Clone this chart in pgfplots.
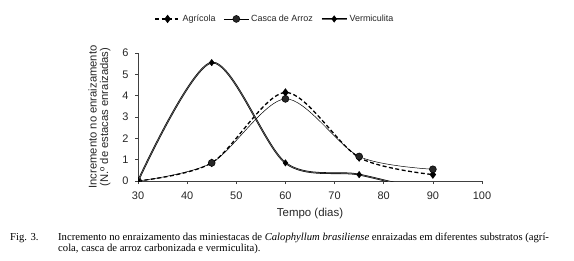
\documentclass[border=0pt]{standalone}
\usepackage{pgfplots}
\pgfplotsset{compat=1.18}
\usepackage{fontspec}
\setmainfont{Liberation Sans}
\newfontfamily\timesfont{Liberation Serif}
\begin{document}
\begin{tikzpicture}[x=1bp,y=1bp]
\useasboundingbox (0,0) rectangle (574,260);
\begin{axis}[
  at={(138bp,79bp)}, anchor=south west,
  scale only axis, width=344bp, height=128bp,
  xmin=30, xmax=100, ymin=0, ymax=6,
  xtick={30,40,...,100}, ytick={0,1,...,6},
  axis x line*=bottom, axis y line*=left,
  axis line style={black!75, line width=0.6pt},
  tick style={black!75, line width=0.6pt},
  tick align=outside, major tick length=3bp,
  /pgf/number format/assume math mode=true,
  ticklabel style={font=\fontsize{11}{12}\selectfont, color=black!85},
  xticklabel style={yshift=-4bp},
  yticklabel style={xshift=-3bp},
  xlabel={Tempo (dias)},
  xlabel style={font=\fontsize{11.5}{12}\selectfont, color=black!85, at={(axis description cs:0.5,0)}, anchor=north, yshift=-24bp},
  ylabel={Incremento no enraizamento\\(N.º de estacas enraizadas)},
  ylabel style={font=\fontsize{11.3}{11.5}\selectfont, color=black!85, align=center, at={(axis description cs:0,0.5)}, anchor=south, yshift=24bp},
  clip=true, clip marker paths=true,
  legend columns=3,
  legend style={draw=none, fill=none, font=\fontsize{9}{10}\selectfont, color=black!85,
    at={(axis description cs:0.398,1.266)}, anchor=center,
    /tikz/every even column/.append style={column sep=6bp}},
  legend image code/.code={\draw[mark repeat=2,mark phase=2,#1] plot coordinates {(0bp,0bp)(12.5bp,0bp)(25bp,0bp)};},
]
\addplot[black, line width=1.3pt, dash pattern=on 4pt off 2.5pt, smooth, mark=diamond*, mark size=3.2bp, mark options={solid, fill=black}]
  coordinates {(30,0) (45,0.85) (60,4.15) (75,1.1) (90,0.3)};
\addlegendentry{Agrícola}
\addplot[black, line width=0.5pt, smooth, mark=*, mark size=3.5bp, mark options={fill=black!85, draw=black}]
  coordinates {(30,0) (45,0.85) (60,3.85) (75,1.15) (90,0.55)};
\addlegendentry{Casca de Arroz}
\addplot[black, line width=0.55pt, double=black!60, double distance=0.6pt, smooth, mark=diamond*, mark size=3.2bp, mark options={fill=black, draw=black, line width=0.5pt}]
  coordinates {(30,0) (45,5.55) (60,0.85) (75,0.3) (90,-0.55)};
\addlegendentry{Vermiculita}
\end{axis}
\node[anchor=west, font=\timesfont\fontsize{10.7}{12}\selectfont, inner sep=0] at (10,22) {Fig. 3.};
\node[anchor=west, font=\timesfont\fontsize{10.7}{12}\selectfont, inner sep=0] at (58,22) {Incremento no enraizamento das miniestacas de \textit{Calophyllum brasiliense} enraizadas em diferentes substratos (agrí-};
\node[anchor=west, font=\timesfont\fontsize{10.7}{12}\selectfont, inner sep=0] at (58,11) {cola, casca de arroz carbonizada e vermiculita).};
\end{tikzpicture}
\end{document}
